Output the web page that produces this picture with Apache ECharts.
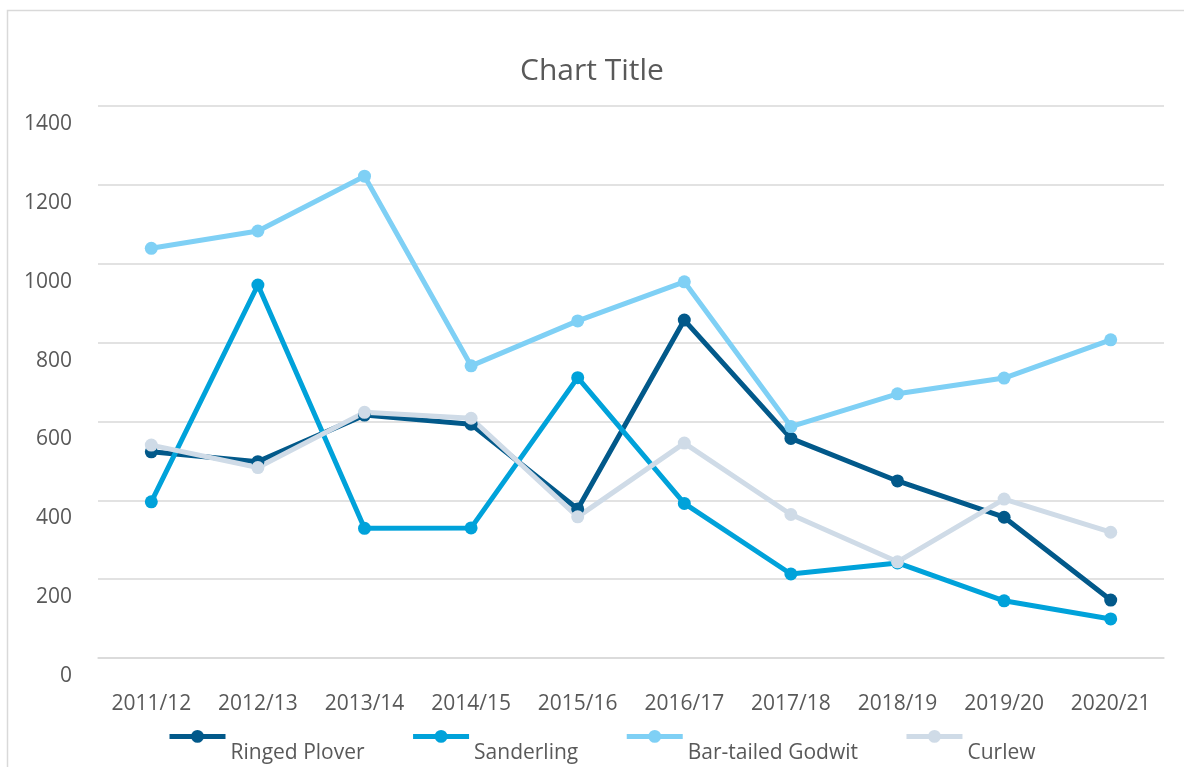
<!DOCTYPE html>
<html>
<head>
<meta charset="utf-8">
<script src="https://cdn.jsdelivr.net/npm/echarts@6/dist/echarts.min.js"></script>
<style>
  html, body { margin: 0; padding: 0; background: #fff; }
  #chart { width: 1184px; height: 767px; }
</style>
</head>
<body>
<div id="chart"></div>
<script>
const seasons = ['2011/12', '2012/13', '2013/14', '2014/15', '2015/16', '2016/17', '2017/18', '2018/19', '2019/20', '2020/21']
const ringedPlover = [523, 498, 616, 593, 378, 857, 557, 449, 357, 147]
const sanderling = [396, 946, 329, 330, 711, 392, 213, 241, 145, 99]
const barTailedGodwit = [1039, 1083, 1222, 741, 855, 954, 587, 670, 710, 807]
const curlew = [540, 483, 623, 608, 358, 545, 364, 244, 403, 319]

const font = '"Open Sans", "Noto Sans", sans-serif'
const textColor = '#595959'
const gridColor = '#d9d9d9'

function line(name, data, color) {
  return {
    name,
    type: 'line',
    data,
    symbol: 'circle',
    symbolSize: 13,
    color,
    lineStyle: { width: 5, color },
    itemStyle: { color }
  }
}

const chart = echarts.init(document.getElementById('chart'))
chart.setOption({
  animation: false,
  backgroundColor: '#fff',
  graphic: [{
    type: 'rect',
    shape: { x: 7.5, y: 10.5, width: 1300, height: 900 },
    style: { fill: 'none', stroke: gridColor, lineWidth: 1.5 },
    silent: true
  }],
  title: {
    text: 'Chart Title',
    left: 'center',
    top: 51,
    textStyle: { fontFamily: font, fontSize: 30, fontWeight: 'normal', color: textColor }
  },
  legend: {
    top: 730,
    left: 167,
    padding: 0,
    itemWidth: 56,
    itemHeight: 16,
    itemGap: 46,
    lineStyle: { width: 5 },
    formatter: '{t|{name}}',
    textStyle: {
      fontFamily: font, fontSize: 21, color: textColor,
      rich: { t: { fontFamily: font, fontSize: 21, color: textColor, padding: [34, 0, 0, 0] } }
    }
  },
  grid: { left: 98, right: 20, top: 106, bottom: 109 },
  xAxis: {
    type: 'category',
    data: seasons,
    boundaryGap: true,
    axisLine: { lineStyle: { color: gridColor, width: 1.5 } },
    axisTick: { show: false },
    axisLabel: { fontFamily: font, fontSize: 21, color: textColor, margin: 36 }
  },
  yAxis: {
    type: 'value',
    min: 0,
    max: 1400,
    interval: 200,
    axisLine: { show: false },
    axisTick: { show: false },
    splitLine: { lineStyle: { color: gridColor, width: 1.5 } },
    axisLabel: {
      margin: 26,
      formatter: v => '{t|' + v + '}',
      rich: { t: { fontFamily: font, fontSize: 21, color: textColor, padding: [36, 0, 0, 0] } }
    }
  },
  series: [
    line('Ringed Plover', ringedPlover, '#02598a'),
    line('Sanderling', sanderling, '#00a2da'),
    line('Bar-tailed Godwit', barTailedGodwit, '#7fd0f5'),
    line('Curlew', curlew, '#cfdbe7')
  ]
})
</script>
</body>
</html>
